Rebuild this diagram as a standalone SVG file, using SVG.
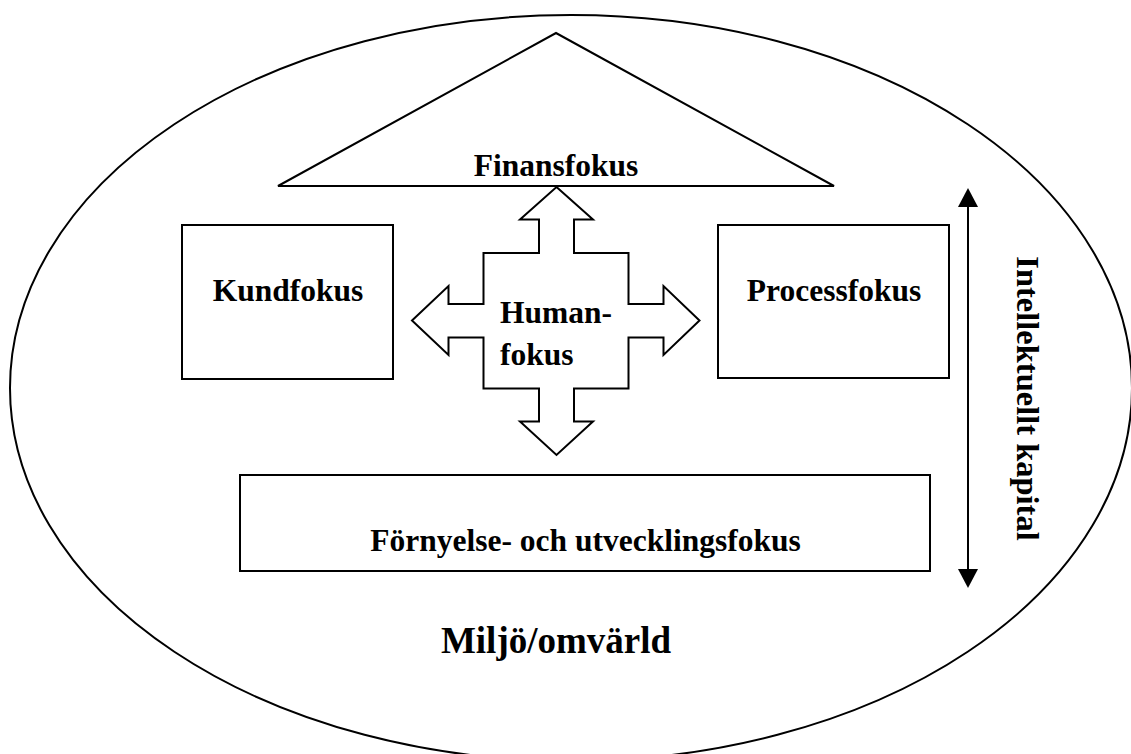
<svg xmlns="http://www.w3.org/2000/svg" width="1131" height="754" viewBox="0 0 1131 754">
  <style>
    .shape { fill: #ffffff; stroke: #000000; stroke-width: 2; }
    .lbl { font-family: "Liberation Serif", "Times New Roman", serif; font-weight: bold; font-size: 31.5px; fill: #000000; text-anchor: middle; }
    .conn { fill: none; stroke: #000000; stroke-width: 2; }
  </style>
  <defs>
    <marker id="head" viewBox="0 0 19 20" markerWidth="19" markerHeight="20" refX="0" refY="10" markerUnits="userSpaceOnUse" orient="auto-start-reverse">
      <path d="M0,0 L19,10 L0,20 Z" fill="#000000"/>
    </marker>
  </defs>
  <rect x="0" y="0" width="1131" height="754" fill="#ffffff"/>

  <g id="environment">
    <ellipse class="shape" cx="571" cy="388" rx="561" ry="373"/>
    <text class="lbl" x="556" y="653" style="font-size:37px">Miljö/omvärld</text>
  </g>

  <g id="finansfokus">
    <polygon class="shape" points="556,33 834,186 278,186"/>
    <text class="lbl" x="556" y="176">Finansfokus</text>
  </g>

  <g id="kundfokus">
    <rect class="shape" x="182" y="225" width="211" height="154"/>
    <text class="lbl" x="288" y="301">Kundfokus</text>
  </g>

  <g id="processfokus">
    <rect class="shape" x="718" y="225" width="231" height="153"/>
    <text class="lbl" x="834" y="301">Processfokus</text>
  </g>

  <g id="humanfokus">
    <polygon class="shape" points="556.5,187 593,219.5 574,219.5 574,253 628.5,253 628.5,304 663.5,304 663.5,286 699.5,320.5 663.5,355 663.5,337.5 628.5,337.5 628.5,388.5 574,388.5 574,421.5 593,421.5 556.5,455 520,421.5 539,421.5 539,388.5 483.5,388.5 483.5,337.5 448.5,337.5 448.5,355 412,320.5 448.5,286 448.5,304 483.5,304 483.5,253 539,253 539,219.5 520,219.5"/>
    <text class="lbl" x="500" y="323" style="text-anchor:start">Human-</text>
    <text class="lbl" x="500" y="365" style="text-anchor:start">fokus</text>
  </g>

  <g id="fornyelse">
    <rect class="shape" x="240" y="475" width="690" height="96"/>
    <text class="lbl" x="585.5" y="551">Förnyelse- och utvecklingsfokus</text>
  </g>

  <g id="connectors">
    <line class="conn" x1="968" y1="207" x2="968" y2="569" marker-start="url(#head)" marker-end="url(#head)"/>
  </g>

  <g id="intellektuellt-kapital">
    <text class="lbl" transform="translate(1017,398.5) rotate(90)" x="0" y="0" style="font-size:32.5px">Intellektuellt kapital</text>
  </g>
</svg>
